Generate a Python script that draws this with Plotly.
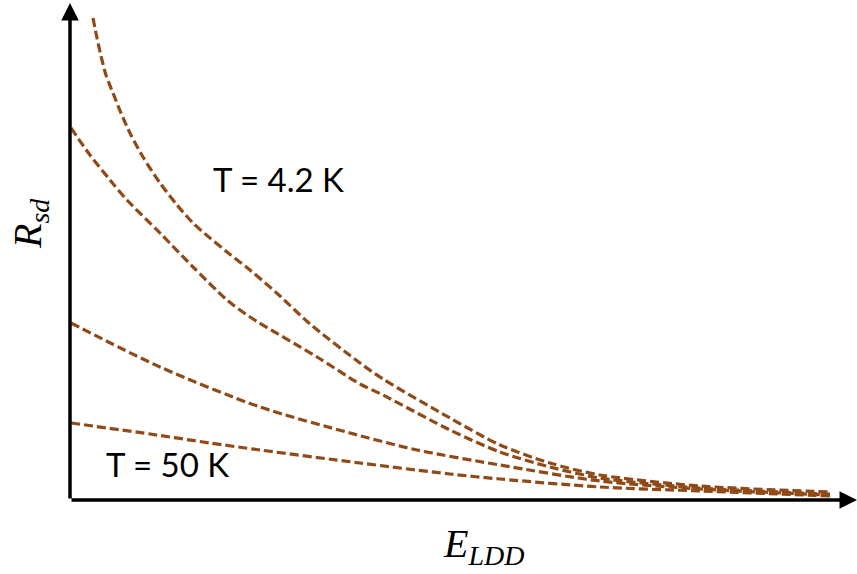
import plotly.graph_objects as go

# Source-drain resistance vs LDD energy, one dashed curve per temperature
e_ldd_1 = [0.292, 0.343, 0.394, 0.457, 0.546, 0.648, 0.762, 0.928, 1.144, 1.360, 1.563, 1.779, 1.995, 2.287,
           2.668, 3.050, 3.685, 3.977, 4.828, 5.464, 6.099, 6.734, 8.005, 9.657]
r_sd_1 = [9.64, 9.24, 8.88, 8.50, 8.14, 7.74, 7.34, 6.86, 6.34, 5.90, 5.54, 5.24, 4.96, 4.60,
          4.08, 3.52, 2.74, 2.42, 1.64, 1.10, 0.74, 0.50, 0.28, 0.16]

e_ldd_2 = [0.013, 0.254, 0.508, 0.724, 1.144, 1.563, 1.995, 2.287, 3.139, 3.685, 3.977, 4.828, 5.464, 6.099, 6.734, 8.005, 9.657]
r_sd_2 = [7.44, 6.90, 6.40, 6.00, 5.34, 4.66, 4.00, 3.66, 2.86, 2.32, 2.10, 1.40, 0.96, 0.66, 0.44, 0.24, 0.12]

e_ldd_3 = [0.013, 1.144, 2.414, 3.558, 4.409, 5.464, 6.734, 8.005, 9.657]
r_sd_3 = [3.54, 2.66, 1.86, 1.34, 1.00, 0.70, 0.38, 0.22, 0.10]

e_ldd_4 = [0.013, 1.017, 1.779, 2.414, 3.685, 4.828, 5.464, 6.734, 8.005, 9.657]
r_sd_4 = [1.54, 1.32, 1.14, 1.00, 0.74, 0.52, 0.42, 0.26, 0.18, 0.08]

curves = [(e_ldd_1, r_sd_1), (e_ldd_2, r_sd_2), (e_ldd_3, r_sd_3), (e_ldd_4, r_sd_4)]

LINE_COLOR = "#8f4a17"

fig = go.Figure()
for xs, ys in curves:
    fig.add_trace(go.Scatter(
        x=xs, y=ys, mode="lines",
        line=dict(color=LINE_COLOR, width=3.2, dash="9px,4px", shape="spline", smoothing=0.8),
        showlegend=False, hoverinfo="skip",
    ))

# Axes drawn as arrows
arrow = dict(showarrow=True, arrowhead=2, arrowsize=1, arrowwidth=3.5,
             arrowcolor="black", text="", axref="x", ayref="y", standoff=0)
fig.add_annotation(x=10.0, y=0, ax=0, ay=0, **arrow)
fig.add_annotation(x=0, y=9.94, ax=0, ay=0, **arrow)

label_font = dict(family="Lato, Open Sans, sans-serif", size=33, color="black")
fig.add_annotation(x=2.65, y=6.42, text="T = 4.2 K", showarrow=False, font=label_font)
fig.add_annotation(x=1.245, y=0.72, text="T = 50 K", showarrow=False, font=label_font)

math_font = dict(family="Liberation Serif, DejaVu Serif, serif", size=40, color="black")
fig.add_annotation(x=0.525, y=-0.092, xref="paper", yref="paper", xanchor="center", yanchor="middle",
                   text="<i>E</i><sub><i>LDD</i></sub>", showarrow=False, font=math_font)
fig.add_annotation(x=-0.0508, y=0.552, xref="paper", yref="paper", xanchor="center", yanchor="middle",
                   textangle=-90, text="<i>R</i><sub><i>sd</i></sub>", showarrow=False, font=math_font)

fig.update_layout(
    width=857, height=574,
    margin=dict(l=70, r=0, t=0, b=74),
    paper_bgcolor="white", plot_bgcolor="white",
    xaxis=dict(range=[0, 10], visible=False, fixedrange=True),
    yaxis=dict(range=[0, 10], visible=False, fixedrange=True),
)

fig.write_html("out.html")
